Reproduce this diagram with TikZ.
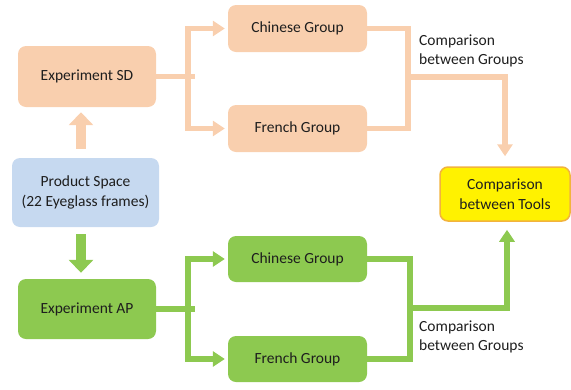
\documentclass[tikz,border=0pt]{standalone}
\usepackage{fontspec}
\setmainfont{Carlito}
\usetikzlibrary{arrows.meta,calc}
\definecolor{peach}{HTML}{F9CFAE}
\definecolor{lblue}{HTML}{C6D9F0}
\definecolor{lgreen}{HTML}{8DC950}
\definecolor{ybord}{HTML}{F2B33D}
\definecolor{yfill}{HTML}{FFF200}
\definecolor{ink}{HTML}{1E1E1E}
\begin{document}
\begin{tikzpicture}[x=1pt,y=-1pt,
  box/.style={rectangle, rounded corners=8pt, inner sep=0pt, align=center, text=ink,
    font=\fontsize{15.5}{19.5}\selectfont},
  sdbox/.style={box, fill=peach},
  apbox/.style={box, fill=lgreen},
  psbox/.style={box, fill=lblue},
  toolbox/.style={box, fill=yfill, draw=ybord, line width=1.5pt},
  lbl/.style={align=left, text=ink, inner sep=0pt, font=\fontsize{15.5}{19.5}\selectfont},
  sdline/.style={draw=peach, line width=5.5pt, line join=miter},
  apline/.style={draw=lgreen, line width=5.5pt, line join=miter},
  tip/.style={-{Triangle[length=12pt,width=15pt]}},
  tips/.style={{Triangle[length=12pt,width=15pt]}-{Triangle[length=12pt,width=15pt]}},
  block/.style={line width=10pt, -{Triangle[length=13pt,width=24pt]}}
]
\useasboundingbox (0,0) rectangle (571,389);

% nodes
\node[sdbox, minimum width=138pt, minimum height=61pt] (sd) at (87,76.5) {Experiment SD};
\node[psbox, minimum width=147pt, minimum height=69pt] (ps) at (85.5,192.5) {Product Space\\(22 Eyeglass frames)};
\node[apbox, minimum width=138pt, minimum height=60pt] (ap) at (87,309) {Experiment AP};
\node[sdbox, minimum width=139pt, minimum height=47pt] (c1) at (297.5,28.5) {Chinese Group};
\node[sdbox, minimum width=139pt, minimum height=47pt] (f1) at (297.5,128.5) {French Group};
\node[apbox, minimum width=139pt, minimum height=46pt] (c2) at (297.5,259) {Chinese Group};
\node[apbox, minimum width=139pt, minimum height=46pt] (f2) at (297.5,359) {French Group};
\node[toolbox, minimum width=130pt, minimum height=54pt] (tools) at (505,194) {Comparison\\between Tools};

\node[lbl, anchor=west] (g1) at (419,51) {Comparison\\between Groups};
\node[lbl, anchor=west] (g2) at (419,337) {Comparison\\between Groups};

% junction coordinates
\coordinate (sdj) at (188,76.5);
\coordinate (apj) at (188,309);
\coordinate (rj1) at (408,77);
\coordinate (rj2) at (410,308);

% block arrows
\draw[block, draw=peach] ($(ps.north)+(-4.5,-9)$) -- ($(sd.south)+(-6,5)$);
\draw[block, draw=lgreen] ($(ps.south)+(-4.5,7)$) -- ($(ap.north)+(-6,-6)$);

% SD fork
\draw[sdline] (sd.east) -- ($(sdj)+(7,0)$);
\draw[sdline, tips] ([xshift=-3pt]c1.west) -- (sdj |- c1.west) -- (sdj |- f1.west) -- ([xshift=-3pt]f1.west);

% AP fork
\draw[apline] (ap.east) -- ($(apj)+(7,0)$);
\draw[apline, tips] ([xshift=-3pt]c2.west) -- (apj |- c2.west) -- (apj |- f2.west) -- ([xshift=-3pt]f2.west);

% SD comparison
\draw[sdline] (c1.east) -- (rj1 |- c1.east) -- (rj1 |- f1.east) -- (f1.east);
\draw[sdline, tip] (rj1) -| ($(tools.north)+(0,-10)$);

% AP comparison
\draw[apline] (c2.east) -- (rj2 |- c2.east) -- (rj2 |- f2.east) -- (f2.east);
\draw[apline, tip] (rj2) -| ($(tools.south)+(2,8)$);
\end{tikzpicture}
\end{document}
